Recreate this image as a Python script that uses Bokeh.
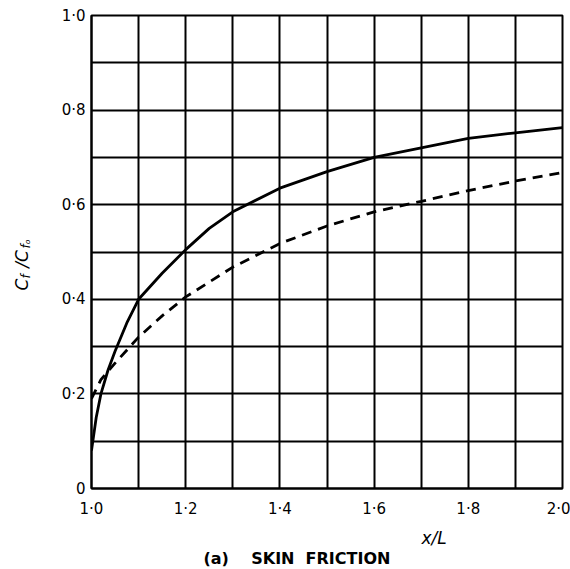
import math
from bokeh.plotting import figure
from bokeh.models import Range1d, FixedTicker, Label
from bokeh.embed import file_html
from bokeh.resources import INLINE

# data
solid_x = [1.0, 1.01, 1.02, 1.035, 1.05, 1.075, 1.1, 1.15, 1.2, 1.25, 1.3, 1.4, 1.5, 1.6, 1.7, 1.8, 1.9, 2.0]
solid_y = [0.08, 0.15, 0.20, 0.25, 0.29, 0.35, 0.40, 0.455, 0.505, 0.55, 0.585, 0.635, 0.67, 0.70, 0.72, 0.74, 0.752, 0.763]
dashed_x = [1.0, 1.01, 1.02, 1.05, 1.1, 1.15, 1.2, 1.3, 1.4, 1.5, 1.6, 1.7, 1.8, 1.9, 2.0]
dashed_y = [0.19, 0.21, 0.23, 0.265, 0.32, 0.365, 0.405, 0.468, 0.518, 0.555, 0.585, 0.607, 0.63, 0.65, 0.668]

x_ticks = [1.0, 1.1, 1.2, 1.3, 1.4, 1.5, 1.6, 1.7, 1.8, 1.9, 2.0]
x_tick_labels = ["1·0", "", "1·2", "", "1·4", "", "1·6", "", "1·8", "", "2·0"]
y_ticks = [0.0, 0.1, 0.2, 0.3, 0.4, 0.5, 0.6, 0.7, 0.8, 0.9, 1.0]
y_tick_labels = ["0", "", "0·2", "", "0·4", "", "0·6", "", "0·8", "", "1·0"]

FONT = "DejaVu Sans"
NB = "\u00a0"

p = figure(width=570, height=569, output_backend="svg", toolbar_location=None,
           x_range=Range1d(1.0, 2.0), y_range=Range1d(0.0, 1.0),
           min_border_left=91, min_border_right=8, min_border_top=15, min_border_bottom=81)
p.background_fill_color = "white"
p.border_fill_color = "white"
p.outline_line_color = "black"
p.outline_line_width = 2

for ax, ticks, labels in ((p.xaxis[0], x_ticks, x_tick_labels), (p.yaxis[0], y_ticks, y_tick_labels)):
    ax.ticker = FixedTicker(ticks=ticks)
    ax.major_label_overrides = {t: l for t, l in zip(ticks, labels)}
    ax.major_tick_line_color = None
    ax.minor_tick_line_color = None
    ax.major_tick_out = 0
    ax.major_tick_in = 0
    ax.minor_tick_out = 0
    ax.axis_line_color = "black"
    ax.axis_line_width = 2
    ax.major_label_text_font = FONT
    ax.major_label_text_font_size = "15px"
    ax.major_label_text_color = "black"
p.xaxis[0].major_label_standoff = 11
p.yaxis[0].major_label_standoff = 6

p.xgrid.ticker = FixedTicker(ticks=x_ticks)
p.ygrid.ticker = FixedTicker(ticks=y_ticks)
for g in (p.xgrid[0], p.ygrid[0]):
    g.grid_line_color = "black"
    g.grid_line_width = 2
    g.grid_line_alpha = 1.0

p.line(solid_x, solid_y, line_color="black", line_width=2.8)
p.line(dashed_x, dashed_y, line_color="black", line_width=2.8, line_dash="10 7")


def lab(text, px, py, side, size, style="normal", angle=0.0, baseline="middle"):
    p.add_layout(Label(x=px, y=py, x_units="canvas", y_units="canvas", text=text,
                       text_font=FONT, text_font_size=size, text_font_style=style,
                       text_color="black", angle=angle, text_align="left",
                       text_baseline=baseline), side)

r = math.pi / 2
# y-axis label  C_f / C_f_o  (rotated, reads bottom to top)
lab("C" + NB * 2 + "/C", 21, 290, "left", "17px", "italic", r, "alphabetic")
lab("f", 25, 278, "left", "12px", "italic", r, "alphabetic")
lab("f\u2092", 25, 248, "left", "12px", "italic", r, "alphabetic")

# x-axis label
lab("x/L", 421, 537, "below", "17px", "italic")
# caption
lab("(a)" + NB * 4 + "SKIN" + NB * 2 + "FRICTION", 203, 558, "below", "16px", "bold")

open("out.html", "w").write(file_html(p, INLINE))
